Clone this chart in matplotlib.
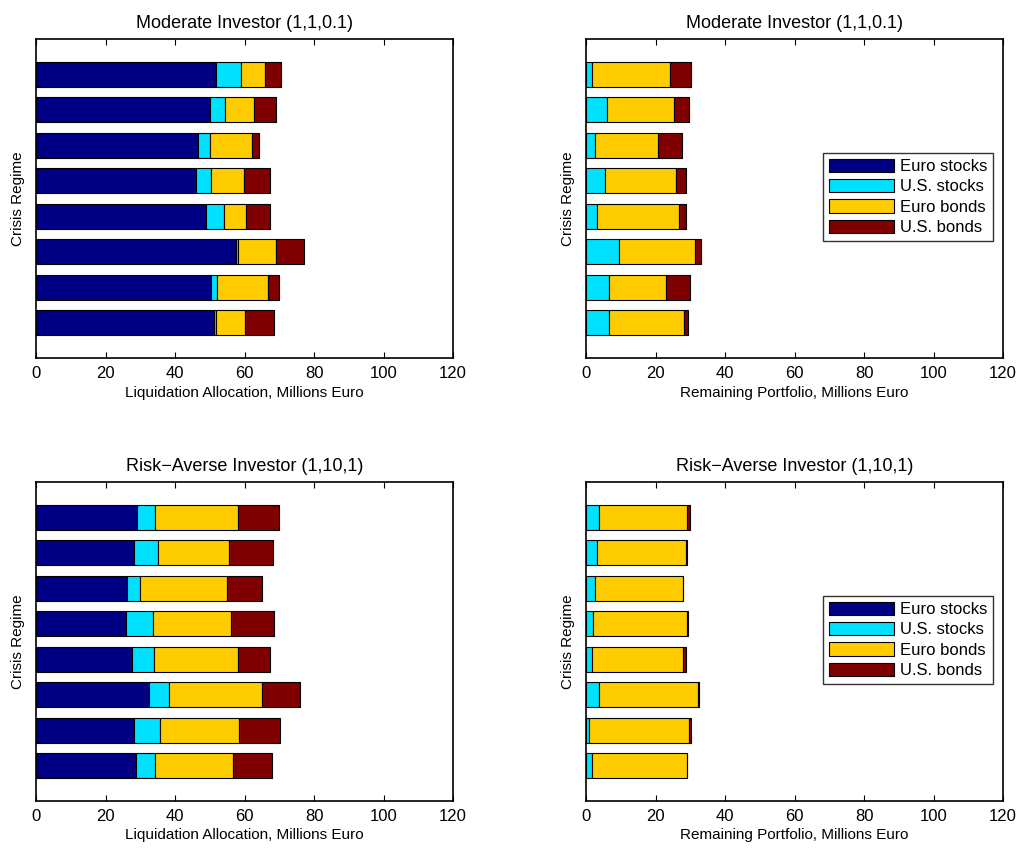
import matplotlib
matplotlib.use("Agg")
import matplotlib.pyplot as plt
import numpy as np

plt.rcParams["font.family"] = ["Liberation Sans", "DejaVu Sans"]

# regimes 1..8, listed bottom to top
regimes = np.arange(1, 9)
assets = ["Euro stocks", "U.S. stocks", "Euro bonds", "U.S. bonds"]
colors = ["#000085", "#00e0ff", "#ffcc00", "#800000"]

# Moderate investor, liquidation allocation
mod_liq_eu_stk = [51.2, 50.3, 57.6, 48.9, 46.1, 46.5, 50.2, 51.7]
mod_liq_us_stk = [0.6, 1.7, 0.4, 5.2, 4.4, 3.6, 4.1, 7.3]
mod_liq_eu_bnd = [8.3, 14.7, 11.0, 6.4, 9.4, 12.2, 8.5, 6.9]
mod_liq_us_bnd = [8.3, 3.2, 8.0, 6.7, 7.4, 1.8, 6.3, 4.5]

# Moderate investor, remaining portfolio
mod_rem_eu_stk = [0, 0, 0, 0, 0, 0, 0, 0]
mod_rem_us_stk = [6.7, 6.5, 9.6, 3.1, 5.4, 2.6, 5.9, 1.7]
mod_rem_eu_bnd = [21.4, 16.4, 21.9, 23.7, 20.4, 18.1, 19.4, 22.5]
mod_rem_us_bnd = [1.2, 7.1, 1.5, 2.0, 3.1, 6.8, 4.3, 6.0]

# Risk-averse investor, liquidation allocation
ra_liq_eu_stk = [28.7, 28.3, 32.4, 27.5, 26.0, 26.1, 28.1, 29.0]
ra_liq_us_stk = [5.5, 7.3, 6.0, 6.5, 7.8, 3.7, 6.9, 5.2]
ra_liq_eu_bnd = [22.6, 22.9, 26.6, 24.0, 22.4, 25.1, 20.6, 23.8]
ra_liq_us_bnd = [11.0, 11.7, 10.9, 9.3, 12.2, 10.2, 12.5, 11.8]

# Risk-averse investor, remaining portfolio
ra_rem_eu_stk = [0, 0, 0, 0, 0, 0, 0, 0]
ra_rem_us_stk = [1.8, 0.9, 3.8, 1.7, 1.9, 2.6, 3.1, 3.8]
ra_rem_eu_bnd = [27.2, 28.7, 28.5, 26.1, 27.3, 25.2, 25.7, 25.4]
ra_rem_us_bnd = [0.2, 0.5, 0.1, 1.0, 0.1, 0.1, 0.3, 0.7]

panels = [
    ("Moderate Investor (1,1,0.1)", "Liquidation Allocation, Millions Euro",
     [mod_liq_eu_stk, mod_liq_us_stk, mod_liq_eu_bnd, mod_liq_us_bnd], False),
    ("Moderate Investor (1,1,0.1)", "Remaining Portfolio, Millions Euro",
     [mod_rem_eu_stk, mod_rem_us_stk, mod_rem_eu_bnd, mod_rem_us_bnd], True),
    ("Risk\u2212Averse Investor (1,10,1)", "Liquidation Allocation, Millions Euro",
     [ra_liq_eu_stk, ra_liq_us_stk, ra_liq_eu_bnd, ra_liq_us_bnd], False),
    ("Risk\u2212Averse Investor (1,10,1)", "Remaining Portfolio, Millions Euro",
     [ra_rem_eu_stk, ra_rem_us_stk, ra_rem_eu_bnd, ra_rem_us_bnd], True),
]

fig = plt.figure(figsize=(10.24, 8.56), dpi=100)
W, H = 1024, 856
boxes = [(36, 39), (586, 39), (36, 482), (586, 482)]

for (title, xlabel, series, show_legend), (x0, y0) in zip(panels, boxes):
    ax = fig.add_axes([x0 / W, 1 - (y0 + 319) / H, 417 / W, 319 / H])
    left = np.zeros(len(regimes))
    for vals, c, name in zip(series, colors, assets):
        ax.barh(regimes, vals, left=left, height=0.7, color=c,
                edgecolor="black", linewidth=0.8, label=name)
        left += np.array(vals)
    ax.set_xlim(0, 120)
    ax.set_ylim(0, 9)
    ax.set_xticks(np.arange(0, 121, 20))
    ax.set_yticks([])
    ax.tick_params(axis="x", direction="in", top=True, length=4, labelsize=12, pad=6)
    ax.set_title(title, fontsize=13, pad=8)
    ax.set_xlabel(xlabel, fontsize=11, labelpad=3)
    ax.set_ylabel("Crisis Regime", fontsize=11, labelpad=8)
    for s in ax.spines.values():
        s.set_linewidth(1.2)
    if show_legend:
        leg = ax.legend(loc="center right", bbox_to_anchor=(0.977, 0.505),
                        fontsize=12, frameon=True, fancybox=False,
                        handlelength=3.9, handleheight=0.85, labelspacing=0.3,
                        borderpad=0.35, handletextpad=0.4, borderaxespad=0)
        leg.get_frame().set_edgecolor("black")
        leg.get_frame().set_linewidth(1.0)

fig.savefig("out.png", dpi=100)
